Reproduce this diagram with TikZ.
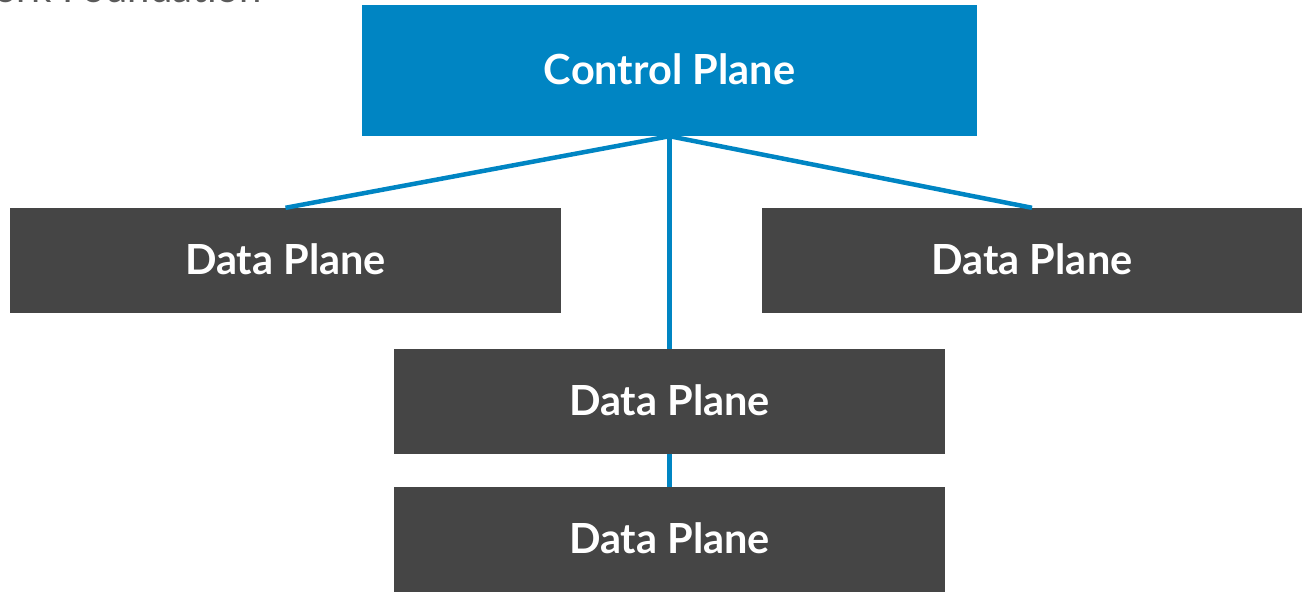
\documentclass[tikz,border=0pt]{standalone}
\usepackage{fontspec}
\setmainfont{Lato}
\definecolor{cpblue}{HTML}{0085C3}
\definecolor{dpgray}{HTML}{454545}
\definecolor{titlegray}{HTML}{5A5A5A}
\begin{document}
\begin{tikzpicture}[x=1pt,y=-1pt,
  box/.style={rectangle, inner sep=0pt, text=white, font=\fontsize{41.5}{48}\selectfont\bfseries},
  cpbox/.style={box, fill=cpblue, minimum width=615pt, minimum height=131pt},
  dpbox/.style={box, fill=dpgray, minimum width=551pt, minimum height=105pt},
  link/.style={draw=cpblue, line width=4.5pt}]
\useasboundingbox (0,0) rectangle (1302,592);
\begin{scope}
\clip (0,0) rectangle (1302,592);
\node[anchor=base east, text=titlegray, font=\fontsize{40}{46}\selectfont, inner sep=0pt] (title) at (262,2) {Network Foundation};
\end{scope}
\node[cpbox] (cp) at (669.5,70.5) {\raisebox{2pt}{Control Plane}};
\node[dpbox] (dpl) at (285.5,260.5) {\raisebox{2pt}{Data Plane}};
\node[dpbox, minimum width=540pt] (dpr) at (1032,260.5) {\raisebox{2pt}{Data Plane}};
\node[dpbox] (dpm) at (669.5,401.5) {\raisebox{2pt}{Data Plane}};
\node[dpbox] (dpb) at (669.5,539.5) {\raisebox{2pt}{Data Plane}};
\draw[link] (cp.south) -- (dpl.north);
\draw[link] (cp.south) -- (dpr.north);
\draw[link] (cp.south) -- (dpm.north);
\draw[link] (dpm.south) -- (dpb.north);
\end{tikzpicture}
\end{document}
